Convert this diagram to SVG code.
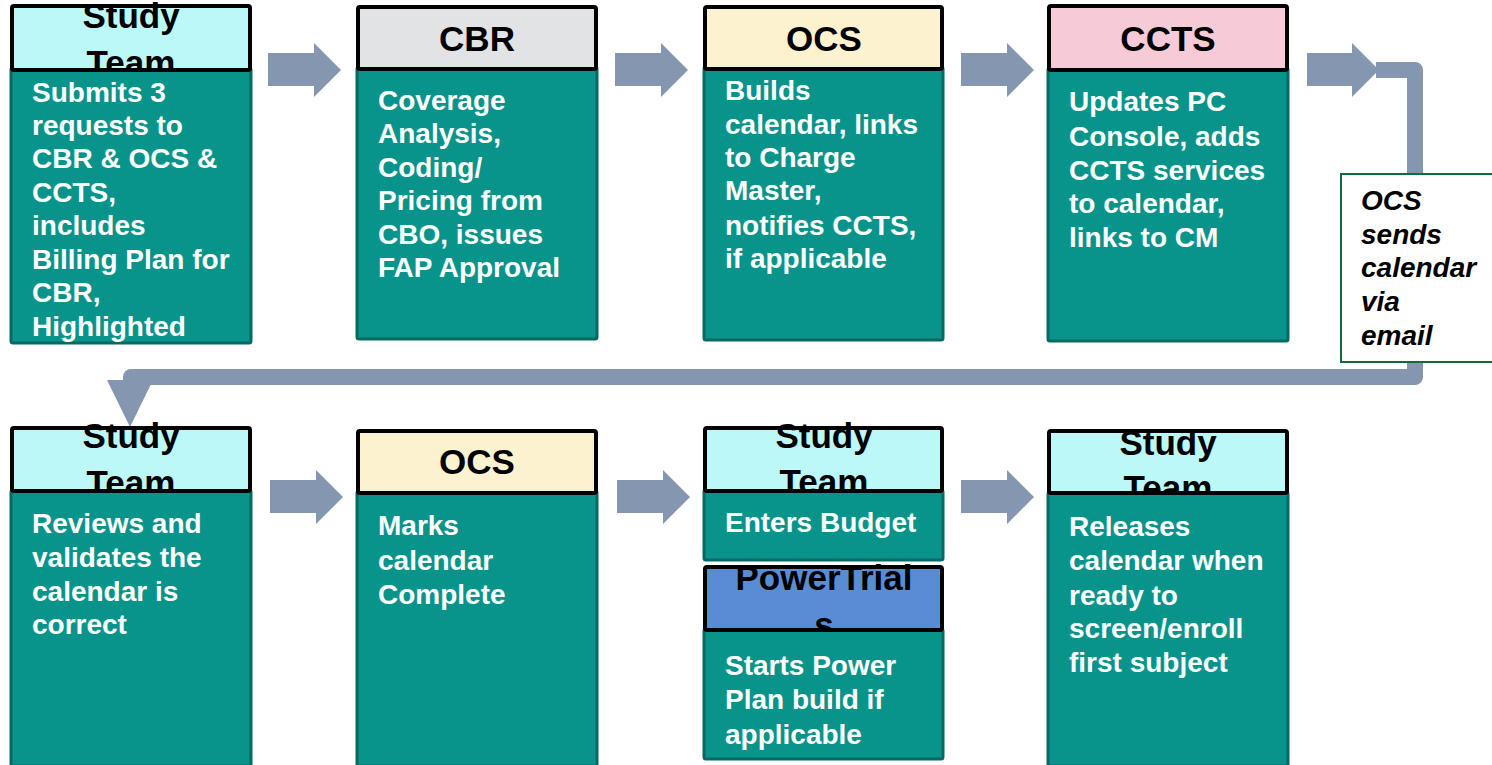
<svg xmlns="http://www.w3.org/2000/svg" width="1492" height="765" viewBox="0 0 1492 765">
<style>
.body{fill:#08948A;stroke:#066A63;stroke-width:3}
.hdr{stroke:#000;stroke-width:4}
.st{fill:#BDF8F8}.cbr{fill:#E2E3E5}.ocs{fill:#FDF2CF}.ccts{fill:#F6CBD7}.pt{fill:#588DD6}
.ht{font-family:"Liberation Sans",Arial,sans-serif;font-weight:bold;font-size:35px;fill:#000;text-anchor:middle}
.bt{font-family:"Liberation Sans",Arial,sans-serif;font-weight:bold;font-size:28px;fill:#fff}
.lt{font-family:"Liberation Sans",Arial,sans-serif;font-weight:bold;font-style:italic;font-size:28px;fill:#000}
.arr{fill:#8496B0}
</style>
<defs>
<clipPath id="c1"><rect x="12" y="0" width="238" height="70"/></clipPath>
<clipPath id="c5"><rect x="12" y="400" width="238" height="91"/></clipPath>
<clipPath id="c7"><rect x="705" y="400" width="237" height="91"/></clipPath>
<clipPath id="c7b"><rect x="705" y="555" width="237" height="75"/></clipPath>
<clipPath id="c8"><rect x="1049" y="400" width="238" height="93"/></clipPath>
</defs>

<g id="connectors">
<polygon class="arr" points="268,53 314,53 314,43 341,70 314,97 314,86 268,86"/>
<polygon class="arr" points="615,53 661,53 661,43 688,70 661,97 661,86 615,86"/>
<polygon class="arr" points="961,53 1007,53 1007,43 1034,70 1007,97 1007,86 961,86"/>
<polygon class="arr" points="1307,53 1352,53 1352,43 1379,70 1352,97 1352,86 1307,86"/>
<path d="M1376 70 H1415 V377 H131 V390" fill="none" stroke="#8496B0" stroke-width="16" stroke-linejoin="round"/>
<polygon class="arr" points="107,380 153,380 130,427"/>
<polygon class="arr" points="270,480 316,480 316,470 343,497 316,524 316,513 270,513"/>
<polygon class="arr" points="617,480 663,480 663,470 690,497 663,524 663,513 617,513"/>
<polygon class="arr" points="961,480 1007,480 1007,470 1034,497 1007,524 1007,513 961,513"/>
</g>

<g id="label">
<rect x="1341" y="174" width="160" height="188" fill="#fff" stroke="#0E6B3B" stroke-width="2"/>
<text class="lt" x="1361" y="210">OCS</text>
<text class="lt" x="1361" y="244">sends</text>
<text class="lt" x="1361" y="277">calendar</text>
<text class="lt" x="1361" y="311">via</text>
<text class="lt" x="1361" y="345">email</text>
</g>

<g id="n1">
<rect class="body" x="11" y="68" width="240" height="275" rx="2"/>
<rect class="hdr st" x="12" y="6" width="238" height="64" rx="2"/>
<g clip-path="url(#c1)"><text class="ht" x="131" y="28">Study</text><text class="ht" x="131" y="75">Team</text></g>
<text class="bt" x="32" y="102">Submits 3</text>
<text class="bt" x="32" y="135">requests to</text>
<text class="bt" x="32" y="168">CBR &amp; OCS &amp;</text>
<text class="bt" x="32" y="202">CCTS,</text>
<text class="bt" x="32" y="235">includes</text>
<text class="bt" x="32" y="269">Billing Plan for</text>
<text class="bt" x="32" y="302">CBR,</text>
<text class="bt" x="32" y="336">Highlighted</text>
</g>

<g id="n2">
<rect class="body" x="357" y="67" width="240" height="272" rx="2"/>
<rect class="hdr cbr" x="358" y="7" width="238" height="62" rx="2"/>
<text class="ht" x="477" y="51">CBR</text>
<text class="bt" x="378" y="110">Coverage</text>
<text class="bt" x="378" y="143">Analysis,</text>
<text class="bt" x="378" y="177">Coding/</text>
<text class="bt" x="378" y="210">Pricing from</text>
<text class="bt" x="378" y="244">CBO, issues</text>
<text class="bt" x="378" y="277">FAP Approval</text>
</g>

<g id="n3">
<rect class="body" x="704" y="67" width="239" height="273" rx="2"/>
<rect class="hdr ocs" x="705" y="7" width="237" height="62" rx="2"/>
<text class="ht" x="824" y="51">OCS</text>
<text class="bt" x="725" y="100">Builds</text>
<text class="bt" x="725" y="134">calendar, links</text>
<text class="bt" x="725" y="167">to Charge</text>
<text class="bt" x="725" y="200">Master,</text>
<text class="bt" x="725" y="235">notifies CCTS,</text>
<text class="bt" x="725" y="268">if applicable</text>
</g>

<g id="n4">
<rect class="body" x="1048" y="68" width="240" height="273" rx="2"/>
<rect class="hdr ccts" x="1049" y="6" width="238" height="64" rx="2"/>
<text class="ht" x="1168" y="51">CCTS</text>
<text class="bt" x="1069" y="111">Updates PC</text>
<text class="bt" x="1069" y="146">Console, adds</text>
<text class="bt" x="1069" y="180">CCTS services</text>
<text class="bt" x="1069" y="213">to calendar,</text>
<text class="bt" x="1069" y="247">links to CM</text>
</g>

<g id="n5">
<rect class="body" x="11" y="490" width="240" height="276" rx="2"/>
<rect class="hdr st" x="12" y="428" width="238" height="63" rx="2"/>
<g clip-path="url(#c5)"><text class="ht" x="131" y="448">Study</text><text class="ht" x="131" y="495">Team</text></g>
<text class="bt" x="32" y="533">Reviews and</text>
<text class="bt" x="32" y="567">validates the</text>
<text class="bt" x="32" y="601">calendar is</text>
<text class="bt" x="32" y="634">correct</text>
</g>

<g id="n6">
<rect class="body" x="357" y="491" width="240" height="275" rx="2"/>
<rect class="hdr ocs" x="358" y="431" width="238" height="62" rx="2"/>
<text class="ht" x="477" y="474">OCS</text>
<text class="bt" x="378" y="535">Marks</text>
<text class="bt" x="378" y="570">calendar</text>
<text class="bt" x="378" y="604">Complete</text>
</g>

<g id="n7">
<rect class="body" x="704" y="490" width="239" height="70" rx="2"/>
<rect class="hdr st" x="705" y="428" width="237" height="63" rx="2"/>
<g clip-path="url(#c7)"><text class="ht" x="824" y="448">Study</text><text class="ht" x="824" y="494">Team</text></g>
<text class="bt" x="725" y="532">Enters Budget</text>
</g>

<g id="n7b">
<rect class="body" x="704" y="629" width="239" height="130" rx="2"/>
<rect class="hdr pt" x="705" y="567" width="237" height="63" rx="2"/>
<g clip-path="url(#c7b)"><text class="ht" x="824" y="590">PowerTrial</text><text class="ht" x="824" y="637">s</text></g>
<text class="bt" x="725" y="675">Starts Power</text>
<text class="bt" x="725" y="709">Plan build if</text>
<text class="bt" x="725" y="744">applicable</text>
</g>

<g id="n8">
<rect class="body" x="1048" y="492" width="240" height="274" rx="2"/>
<rect class="hdr st" x="1049" y="431" width="238" height="62" rx="2"/>
<g clip-path="url(#c8)"><text class="ht" x="1168" y="455">Study</text><text class="ht" x="1168" y="500">Team</text></g>
<text class="bt" x="1069" y="536">Releases</text>
<text class="bt" x="1069" y="570">calendar when</text>
<text class="bt" x="1069" y="605">ready to</text>
<text class="bt" x="1069" y="638">screen/enroll</text>
<text class="bt" x="1069" y="672">first subject</text>
</g>
</svg>
